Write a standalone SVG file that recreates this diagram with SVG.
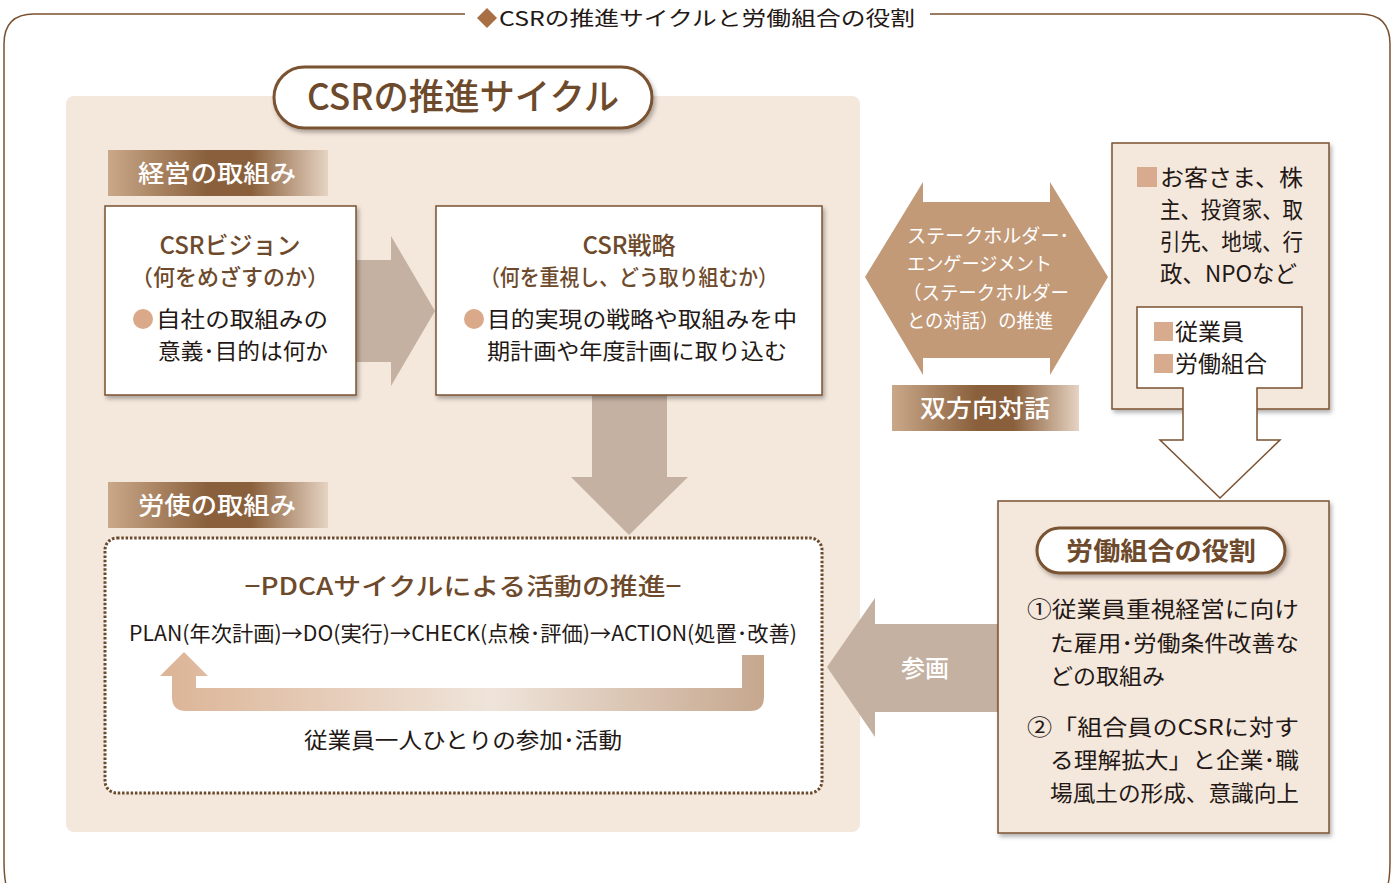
<svg xmlns="http://www.w3.org/2000/svg" width="1394" height="883" viewBox="0 0 1394 883">
<defs>
<style>
text{font-family:"Noto Sans CJK JP","Noto Sans",sans-serif;}
.br{fill:#6e4a2c;}
.bk{fill:#231815;}
.wt{fill:#ffffff;}
.box{fill:#ffffff;stroke:#7a5230;stroke-width:1.5;filter:url(#sh);}
.bg{fill:#f4e7dc;stroke:#7a5230;stroke-width:1.5;filter:url(#sh);}
.pill{fill:#ffffff;stroke:#7a5230;stroke-width:3;filter:url(#sh);}
.arr{fill:#c4b1a2;}
.sq{fill:#d9ab8e;}
</style>
<filter id="sh" x="-10%" y="-10%" width="125%" height="130%">
<feDropShadow dx="2" dy="3" stdDeviation="2" flood-color="#000" flood-opacity="0.3"/>
</filter>
<linearGradient id="lab" x1="0" y1="0" x2="1" y2="0">
<stop offset="0" stop-color="#c9a889"/>
<stop offset="0.45" stop-color="#8a603c"/>
<stop offset="0.65" stop-color="#8a603c"/>
<stop offset="1" stop-color="#e6d3c2"/>
</linearGradient>
<linearGradient id="ug" x1="0" y1="0" x2="1" y2="0">
<stop offset="0" stop-color="#dcb496"/>
<stop offset="0.55" stop-color="#efe4da"/>
<stop offset="1" stop-color="#c6a78e"/>
</linearGradient>
</defs>

<rect width="1394" height="883" fill="#ffffff"/>

<!-- outer frame -->
<g id="frame">
<path d="M465,14 H34 Q4,14 4,44 V860 Q4,883 8,890 M930,14 H1360 Q1390,14 1390,44 V860 Q1390,883 1386,890" fill="none" stroke="#7a5230" stroke-width="1.5"/>
<path d="M487,8 L497,18 L487,28 L477,18 Z" fill="#a86f45"/>
<text x="499" y="26" font-size="20" class="bk" textLength="416" lengthAdjust="spacingAndGlyphs">CSRの推進サイクルと労働組合の役割</text>
</g>

<!-- main panel -->
<g id="panel">
<rect x="66" y="96" width="794" height="736" rx="8" fill="#f4e7dc"/>
<rect x="274" y="67" width="378" height="61" rx="30.5" class="pill"/>
<text x="463" y="110" font-size="36" font-weight="500" class="br" text-anchor="middle" textLength="312" lengthAdjust="spacingAndGlyphs">CSRの推進サイクル</text>
</g>

<g id="label-keiei">
<rect x="108" y="150" width="220" height="46" fill="url(#lab)"/>
<text x="217" y="182" font-size="24" font-weight="500" class="wt" text-anchor="middle" textLength="158" lengthAdjust="spacingAndGlyphs">経営の取組み</text>
</g>

<g id="label-roushi">
<rect x="108" y="482" width="220" height="46" fill="url(#lab)"/>
<text x="217" y="514" font-size="24" font-weight="500" class="wt" text-anchor="middle" textLength="158" lengthAdjust="spacingAndGlyphs">労使の取組み</text>
</g>

<!-- connectors -->
<g id="connectors">
<path class="arr" d="M356,260 H391 V236 L435,311 L391,386 V362 H356 Z"/>
<path class="arr" d="M592,395 H667 V477 H688 L629,535 L571,477 H592 Z"/>
<path class="arr" d="M998,624 H875 V598 L827,667 L875,737 V712 H998 Z"/>
<path d="M865,277 L923,182 V202 H1050 V182 L1108,277 L1050,375 V358 H923 V375 Z" fill="#c39a78"/>
</g>

<g id="vision">
<rect x="105" y="206" width="251" height="189" class="box"/>
<text x="230" y="254" font-size="24" font-weight="500" class="br" text-anchor="middle">CSRビジョン</text>
<text x="230" y="285" font-size="22" font-weight="500" class="br" text-anchor="middle">（何をめざすのか）</text>
<circle cx="143" cy="319" r="10" fill="#d9a98a"/>
<text x="156" y="327" font-size="22" class="bk" textLength="172" lengthAdjust="spacingAndGlyphs">自社の取組みの</text>
<text x="158" y="359" font-size="22" class="bk" textLength="170" lengthAdjust="spacingAndGlyphs">意義･目的は何か</text>
</g>

<g id="strategy">
<rect x="436" y="206" width="386" height="189" class="box"/>
<text x="629" y="254" font-size="24" font-weight="500" class="br" text-anchor="middle">CSR戦略</text>
<text x="629" y="285" font-size="22" font-weight="500" class="br" text-anchor="middle" textLength="298" lengthAdjust="spacingAndGlyphs">（何を重視し、どう取り組むか）</text>
<circle cx="474" cy="319" r="10" fill="#d9a98a"/>
<text x="487" y="327" font-size="22" class="bk" textLength="310" lengthAdjust="spacingAndGlyphs">目的実現の戦略や取組みを中</text>
<text x="487" y="359" font-size="22" class="bk" textLength="300" lengthAdjust="spacingAndGlyphs">期計画や年度計画に取り込む</text>
</g>

<g id="pdca">
<rect x="105" y="538" width="717" height="255" rx="12" fill="#ffffff" stroke="#6b4a2c" stroke-width="3" stroke-dasharray="2.5 1.8"/>
<text x="463" y="595" font-size="24" font-weight="500" class="br" text-anchor="middle" textLength="437" lengthAdjust="spacingAndGlyphs">−PDCAサイクルによる活動の推進−</text>
<text x="129" y="641" font-size="21" class="bk" textLength="668" lengthAdjust="spacingAndGlyphs">PLAN(年次計画)→DO(実行)→CHECK(点検･評価)→ACTION(処置･改善)</text>
<path d="M742,655 H764 V697 Q764,711 750,711 H186 Q172,711 172,697 V676 H160 L184,652 L208,676 H196 V688 H742 Z" fill="url(#ug)"/>
<text x="463" y="748" font-size="22" class="bk" text-anchor="middle" textLength="318" lengthAdjust="spacingAndGlyphs">従業員一人ひとりの参加･活動</text>
</g>

<g id="engagement">
<text x="907" y="243" font-size="19" class="wt" textLength="162" lengthAdjust="spacingAndGlyphs">ステークホルダー･</text>
<text x="907" y="271" font-size="19" class="wt" textLength="145" lengthAdjust="spacingAndGlyphs">エンゲージメント</text>
<text x="903" y="300" font-size="19" class="wt" textLength="166" lengthAdjust="spacingAndGlyphs">（ステークホルダー</text>
<text x="907" y="328" font-size="19" class="wt" textLength="146" lengthAdjust="spacingAndGlyphs">との対話）の推進</text>
</g>

<g id="label-taiwa">
<rect x="892" y="385" width="187" height="46" fill="url(#lab)"/>
<text x="985" y="417" font-size="24" font-weight="500" class="wt" text-anchor="middle" textLength="130" lengthAdjust="spacingAndGlyphs">双方向対話</text>
</g>

<g id="stakeholders">
<rect x="1112" y="143" width="217" height="266" class="bg"/>
<rect x="1137" y="167" width="20" height="20" class="sq"/>
<text x="1160" y="186" font-size="23" class="bk" textLength="143" lengthAdjust="spacingAndGlyphs">お客さま、株</text>
<text x="1160" y="218" font-size="23" class="bk" textLength="143" lengthAdjust="spacingAndGlyphs">主、投資家、取</text>
<text x="1160" y="250" font-size="23" class="bk" textLength="143" lengthAdjust="spacingAndGlyphs">引先、地域、行</text>
<text x="1160" y="282" font-size="23" class="bk" textLength="137" lengthAdjust="spacingAndGlyphs">政、NPOなど</text>
<path d="M1137,307 H1302 V388 H1257 V440 H1280 L1220,498 L1160,440 H1183 V388 H1137 Z" fill="#ffffff" stroke="#7a5230" stroke-width="1.5"/>
<rect x="1154" y="322" width="19" height="19" class="sq"/>
<text x="1175" y="340" font-size="23" class="bk">従業員</text>
<rect x="1154" y="354" width="19" height="19" class="sq"/>
<text x="1175" y="372" font-size="23" class="bk">労働組合</text>
</g>

<g id="sanka">
<text x="925" y="677" font-size="24" font-weight="500" class="wt" text-anchor="middle">参画</text>
</g>

<g id="role">
<rect x="998" y="501" width="331" height="332" class="bg"/>
<rect x="1037" y="528" width="248" height="45" rx="22.5" class="pill"/>
<text x="1161" y="560" font-size="25" font-weight="700" class="br" text-anchor="middle" textLength="190" lengthAdjust="spacingAndGlyphs">労働組合の役割</text>
<text x="1027" y="617" font-size="22" class="bk" textLength="272" lengthAdjust="spacingAndGlyphs">①従業員重視経営に向け</text>
<text x="1050" y="651" font-size="22" class="bk" textLength="249" lengthAdjust="spacingAndGlyphs">た雇用･労働条件改善な</text>
<text x="1050" y="684" font-size="22" class="bk" textLength="115" lengthAdjust="spacingAndGlyphs">どの取組み</text>
<text x="1027" y="735" font-size="22" class="bk" textLength="272" lengthAdjust="spacingAndGlyphs">②「組合員のCSRに対す</text>
<text x="1050" y="768" font-size="22" class="bk" textLength="249" lengthAdjust="spacingAndGlyphs">る理解拡大」と企業･職</text>
<text x="1050" y="801" font-size="22" class="bk" textLength="249" lengthAdjust="spacingAndGlyphs">場風土の形成、意識向上</text>
</g>
</svg>
